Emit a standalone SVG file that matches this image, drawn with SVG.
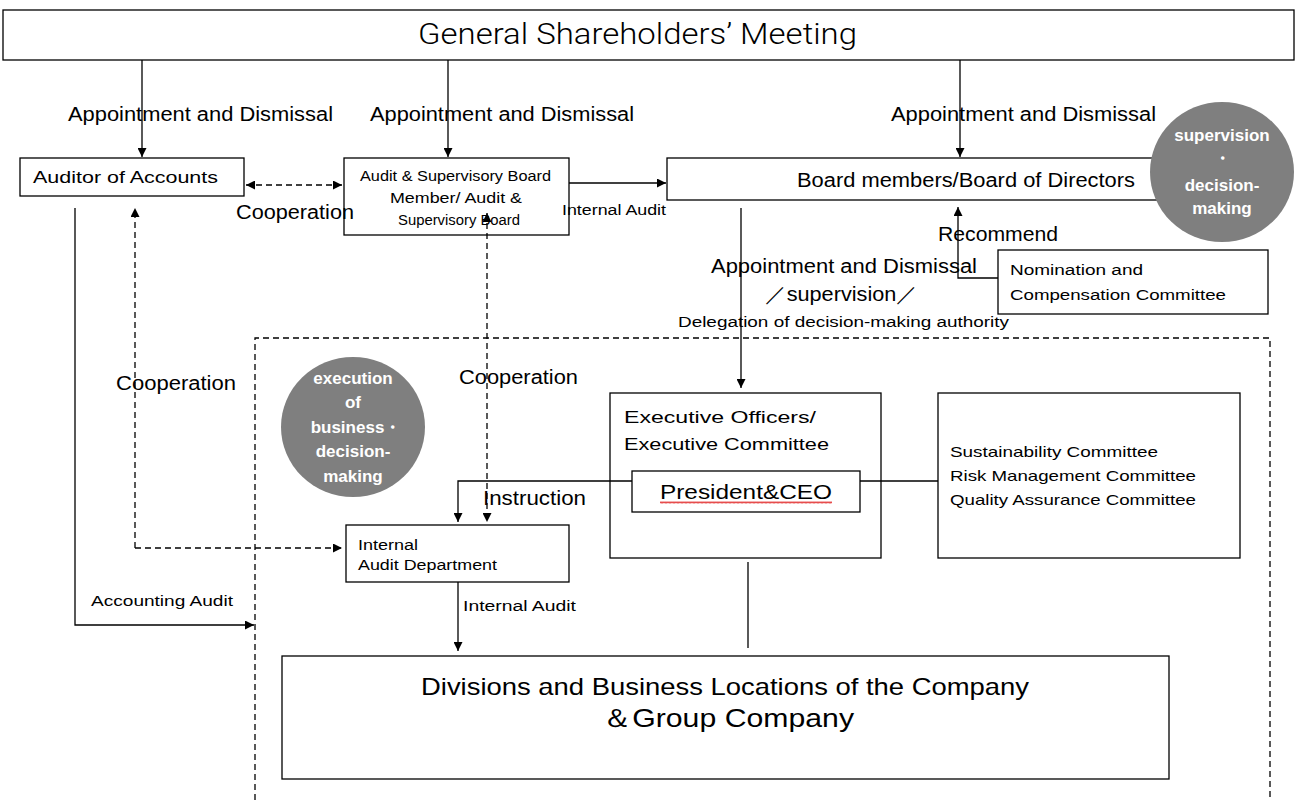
<svg xmlns="http://www.w3.org/2000/svg" width="1298" height="800" viewBox="0 0 1298 800">
<style>
text{font-family:"Liberation Sans",Arial,sans-serif;fill:#000}
.box{fill:#fff;stroke:#000;stroke-width:1.3}
.ln{fill:none;stroke:#000;stroke-width:1.3}
.ds{fill:none;stroke:#000;stroke-width:1.3;stroke-dasharray:6 4}
.circ{fill:#7f7f7f}
.ct{fill:#fff;font-weight:bold;font-size:17px;text-anchor:middle}
.lg{font-size:20px}
.md{font-size:17px}
.sm{font-size:14px}
.title{font-family:Roboto,"Liberation Sans",Arial,sans-serif;font-weight:300;font-size:29px}
</style>
<defs>
<marker id="arr" viewBox="0 0 10 10" refX="10" refY="5" markerWidth="9" markerHeight="9" markerUnits="userSpaceOnUse" orient="auto-start-reverse">
<path d="M0,0 L10,5 L0,10 z" fill="#000"/>
</marker>
<pattern id="wave" width="4" height="3" patternUnits="userSpaceOnUse">
<polyline points="0,2.5 1,0.5 2,2.5 3,0.5 4,2.5" fill="none" stroke="#e02020" stroke-width="0.8"/>
</pattern>
</defs>

<g id="frame">
<path class="ds" d="M255,800 V338 H1270 V800"/>
</g>

<g id="shareholders">
<rect class="box" x="3" y="10" width="1291" height="50"/>
<text class="title" x="418" y="44" textLength="439" lengthAdjust="spacingAndGlyphs">General Shareholders’ Meeting</text>
</g>

<g id="auditor-accounts">
<rect class="box" x="20" y="158" width="224" height="38"/>
<text class="md" x="33" y="183" textLength="185" lengthAdjust="spacingAndGlyphs">Auditor of Accounts</text>
</g>

<g id="audit-board">
<rect class="box" x="344" y="158" width="225" height="77"/>
<text class="sm" x="360" y="181" textLength="191" lengthAdjust="spacingAndGlyphs">Audit &amp; Supervisory Board</text>
<text class="sm" x="390" y="203" textLength="132" lengthAdjust="spacingAndGlyphs">Member/ Audit &amp;</text>
<text class="sm" x="398" y="225" textLength="122" lengthAdjust="spacingAndGlyphs">Supervisory Board</text>
</g>

<g id="board">
<rect class="box" x="667" y="158" width="500" height="42"/>
<text class="lg" x="797" y="187" textLength="338" lengthAdjust="spacingAndGlyphs">Board members/Board of Directors</text>
</g>

<g id="supervision-circle">
<ellipse class="circ" cx="1222" cy="172" rx="72" ry="70"/>
<text class="ct" x="1222" y="141">supervision</text>
<text class="ct" x="1222" y="164">・</text>
<text class="ct" x="1222" y="191">decision-</text>
<text class="ct" x="1222" y="214">making</text>
</g>

<g id="nomination">
<rect class="box" x="998" y="250" width="270" height="64"/>
<text class="sm" x="1010" y="275" textLength="133" lengthAdjust="spacingAndGlyphs">Nomination and</text>
<text class="sm" x="1010" y="300" textLength="216" lengthAdjust="spacingAndGlyphs">Compensation Committee</text>
</g>

<g id="execution-circle">
<ellipse class="circ" cx="353" cy="427" rx="72" ry="70"/>
<text class="ct" x="353" y="384">execution</text>
<text class="ct" x="353" y="408">of</text>
<text class="ct" x="356" y="433">business・</text>
<text class="ct" x="353" y="457">decision-</text>
<text class="ct" x="353" y="482">making</text>
</g>

<g id="executive">
<rect class="box" x="610" y="393" width="271" height="165"/>
<text class="md" x="624" y="423" textLength="192" lengthAdjust="spacingAndGlyphs">Executive Officers/</text>
<text class="md" x="624" y="450" textLength="205" lengthAdjust="spacingAndGlyphs">Executive Committee</text>
</g>

<g id="president">
<rect class="box" x="632" y="471" width="228" height="41"/>
<text x="660" y="499" font-size="20" textLength="172" lengthAdjust="spacingAndGlyphs">President&amp;CEO</text>
<rect x="660" y="501" width="172" height="3" fill="url(#wave)"/>
</g>

<g id="committees">
<rect class="box" x="938" y="393" width="302" height="165"/>
<text x="950" y="457" font-size="15" textLength="208" lengthAdjust="spacingAndGlyphs">Sustainability Committee</text>
<text x="950" y="481" font-size="15" textLength="246" lengthAdjust="spacingAndGlyphs">Risk Management Committee</text>
<text x="950" y="505" font-size="15" textLength="246" lengthAdjust="spacingAndGlyphs">Quality Assurance Committee</text>
</g>

<g id="internal-audit">
<rect class="box" x="346" y="525" width="223" height="57"/>
<text class="sm" x="358" y="550" textLength="60" lengthAdjust="spacingAndGlyphs">Internal</text>
<text class="sm" x="358" y="570" textLength="139" lengthAdjust="spacingAndGlyphs">Audit Department</text>
</g>

<g id="divisions">
<rect class="box" x="282" y="656" width="887" height="123"/>
<text x="421" y="695" font-size="24" textLength="608" lengthAdjust="spacingAndGlyphs">Divisions and Business Locations of the Company</text>
<text x="602" y="727" font-size="26" textLength="252" lengthAdjust="spacingAndGlyphs">＆Group Company</text>
</g>

<g id="labels">
<text class="lg" x="68" y="121" textLength="265" lengthAdjust="spacingAndGlyphs">Appointment and Dismissal</text>
<text class="lg" x="370" y="121" textLength="264" lengthAdjust="spacingAndGlyphs">Appointment and Dismissal</text>
<text class="lg" x="891" y="121" textLength="265" lengthAdjust="spacingAndGlyphs">Appointment and Dismissal</text>
<text class="lg" x="236" y="219" textLength="118" lengthAdjust="spacingAndGlyphs">Cooperation</text>
<text class="sm" x="562" y="215" textLength="104" lengthAdjust="spacingAndGlyphs">Internal Audit</text>
<text class="lg" x="938" y="241" textLength="120" lengthAdjust="spacingAndGlyphs">Recommend</text>
<text class="lg" x="711" y="273" textLength="266" lengthAdjust="spacingAndGlyphs">Appointment and Dismissal</text>
<text class="lg" x="765" y="301" textLength="153" lengthAdjust="spacingAndGlyphs">／supervision／</text>
<text class="sm" x="678" y="327" textLength="331" lengthAdjust="spacingAndGlyphs">Delegation of decision-making authority</text>
<text class="lg" x="116" y="390" textLength="120" lengthAdjust="spacingAndGlyphs">Cooperation</text>
<text class="lg" x="459" y="384" textLength="119" lengthAdjust="spacingAndGlyphs">Cooperation</text>
<text class="lg" x="483" y="505" textLength="103" lengthAdjust="spacingAndGlyphs">Instruction</text>
<text class="sm" x="91" y="606" textLength="142" lengthAdjust="spacingAndGlyphs">Accounting Audit</text>
<text class="sm" x="463" y="611" textLength="113" lengthAdjust="spacingAndGlyphs">Internal Audit</text>
</g>

<g id="connectors">
<path class="ln" d="M142,60 V157" marker-end="url(#arr)"/>
<path class="ln" d="M448,60 V157" marker-end="url(#arr)"/>
<path class="ln" d="M960,60 V157" marker-end="url(#arr)"/>
<path class="ds" d="M246,185 H342" marker-start="url(#arr)" marker-end="url(#arr)"/>
<path class="ln" d="M569,183 H666" marker-end="url(#arr)"/>
<path class="ln" d="M741,208 V388" marker-end="url(#arr)"/>
<path class="ln" d="M998,278 H958 V207" marker-end="url(#arr)"/>
<path class="ds" d="M135,548 V208" marker-end="url(#arr)"/>
<path class="ds" d="M135,548 H342" marker-end="url(#arr)"/>
<path class="ds" d="M487,213 V522" marker-start="url(#arr)" marker-end="url(#arr)"/>
<path class="ln" d="M632,481 H458 V522" marker-end="url(#arr)"/>
<path class="ln" d="M860,481 H938"/>
<path class="ln" d="M75,208 V625 H254" marker-end="url(#arr)"/>
<path class="ln" d="M458,582 V651" marker-end="url(#arr)"/>
<path class="ln" d="M748,562 V648"/>
</g>
</svg>
